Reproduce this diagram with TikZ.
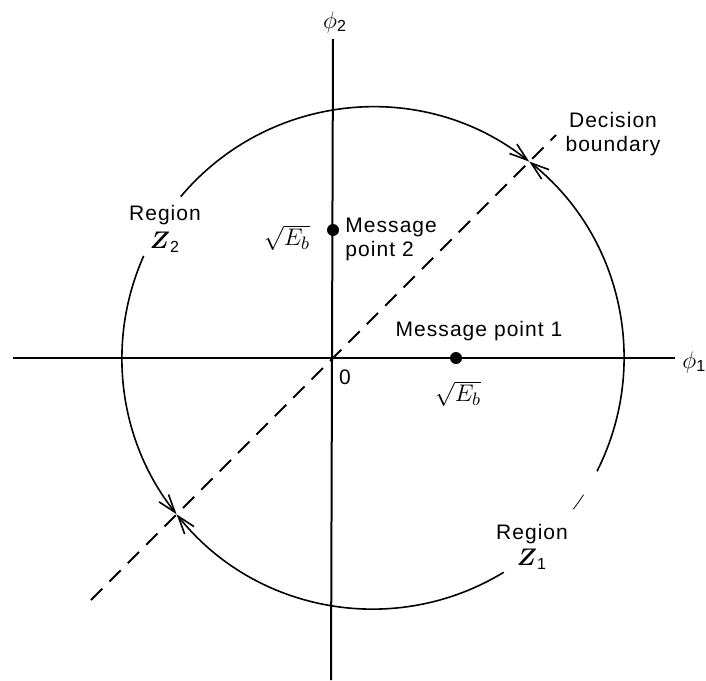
\documentclass[tikz,border=0pt]{standalone}
\usepackage{amsmath}
\usepackage{fontspec}
\setmainfont[LetterSpace=5]{Liberation Sans}
\usetikzlibrary{arrows.meta,calc}
\begin{document}
\begin{tikzpicture}[x=0.5pt,y=-0.5pt,
  axis/.style={line width=1pt},
  ring/.style={line width=0.8pt},
  bnd/.style={line width=0.9pt, dash pattern=on 8pt off 5pt},
  tipped/.style={-{Straight Barb[length=9pt,width=6pt]}},
  lbl/.style={font=\fontsize{10.5}{12}\selectfont, inner sep=0pt},
  mathlbl/.style={font=\fontsize{13}{15}\selectfont, inner sep=0pt},
  dot/.style={circle, fill, inner sep=0pt, minimum size=6pt}]
\useasboundingbox (0,0) rectangle (706,680);
% reference points
\coordinate (C) at (373,358);
\coordinate (O) at (333,358);
\coordinate (xl) at (13,358);
\coordinate (xr) at (675,358);
\coordinate (yt) at (333,39);
\coordinate (yb) at (331,680);
\coordinate (db1) at (91,600);
\coordinate (db2) at (556,135);
% axes
\draw[axis] (xl) -- (xr);
\draw[axis] (yt) -- (yb);
% decision boundary
\draw[bnd] (db1) -- (db2);
% circle arcs (broken at the region labels)
\draw[ring,tipped] ($(C)+(-140:251)$) arc[start angle=-140, end angle=-51.5, radius=251];
\draw[ring,tipped] ($(C)+(-156:251)$) arc[start angle=-156, end angle=-218.5, radius=251];
\draw[ring,tipped] ($(C)+(-301.4:251)$) arc[start angle=-301.4, end angle=-218.5, radius=251];
\draw[ring,tipped] ($(C)+(26.8:251)$) arc[start angle=26.8, end angle=-51.5, radius=251];
\draw[line width=0.4pt] ($(C)+(33:251)$) arc[start angle=33, end angle=37, radius=251];
% message points
\node[dot] (m2) at (333,230) {};
\node[dot] (m1) at (456,358) {};
% labels
\node[mathlbl, font=\fontsize{12}{14}\selectfont] (phi2) at (335,22) {$\phi_{\text{2}}$};
\node[mathlbl, font=\fontsize{12}{14}\selectfont, anchor=west] (phi1) at (682,362) {$\phi_{\text{1}}$};
\node[lbl, align=center] (dec) at (613,134) {Decision\\boundary};
\node[lbl, align=center] (r2) at (165,229) {Region\\[2pt]{\fontsize{12}{14}\selectfont$\boldsymbol{Z}_{\text{2}}$}};
\node[lbl, align=center] (r1) at (532,547) {Region\\[1pt]{\fontsize{12}{14}\selectfont$\boldsymbol{Z}_{\text{1}}$}};
\node[lbl, align=left, anchor=west] (mp2) at (345,239) {Message\\point 2};
\node[lbl] (mp1) at (479,331) {Message point 1};
\node[mathlbl] (e2) at (287,238) {$\sqrt{E_b}$};
\node[mathlbl] (e1) at (458,394) {$\sqrt{E_b}$};
\node[lbl] (zero) at (345,377) {0};
\end{tikzpicture}
\end{document}
